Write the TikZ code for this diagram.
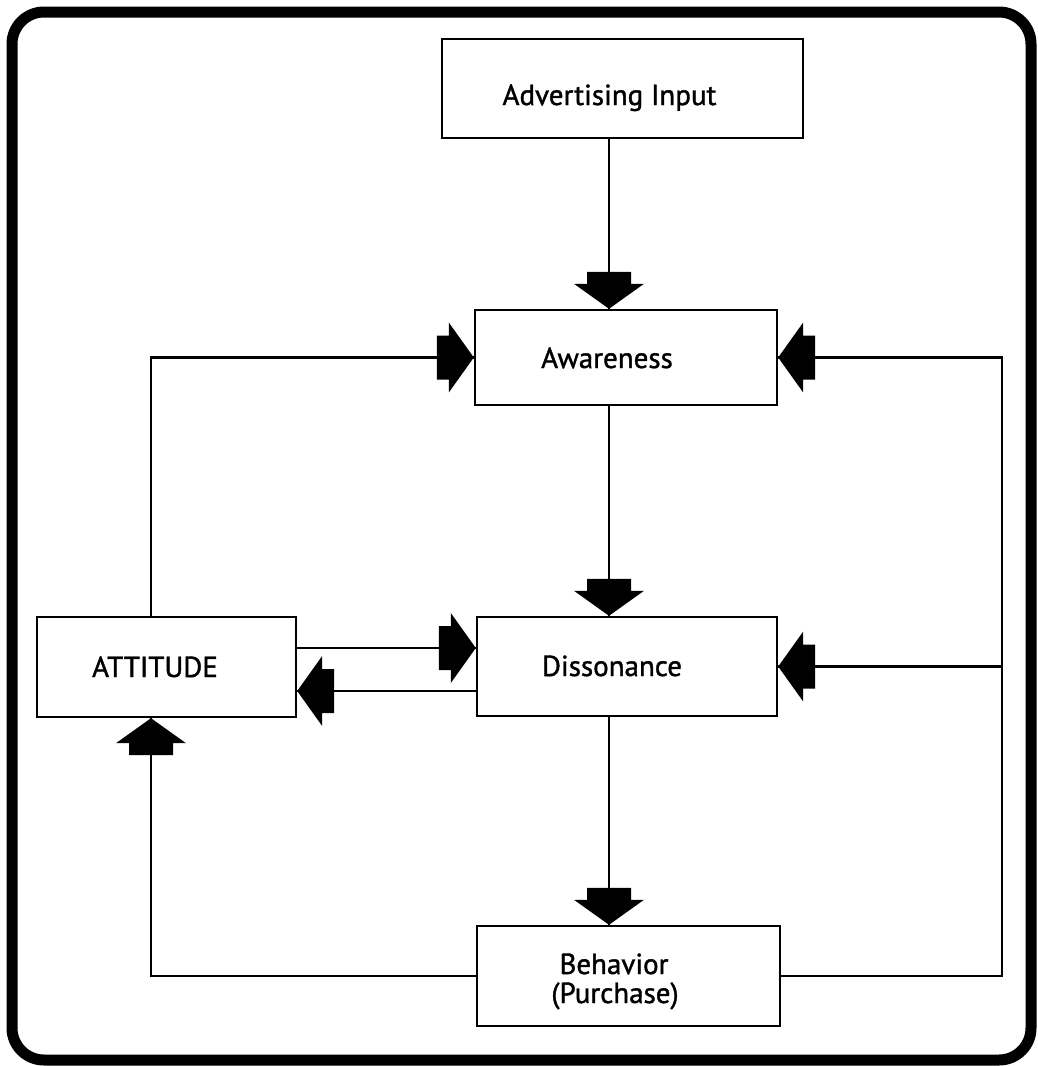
\documentclass[tikz,border=0pt]{standalone}
\usepackage{fontspec}
\setmainfont{PT Sans}
\newfontfamily\lblfont{PT Sans}[FakeBold=1.3]
\begin{document}
\begin{tikzpicture}[x=1pt,y=-1pt,
  box/.style={draw,line width=2.4pt,rectangle,inner sep=0pt},
  lbl/.style={font=\lblfont\fontsize{29}{30}\selectfont,inner sep=0pt,anchor=base},
  conn/.style={line width=2.4pt},
  blockarr/.pic={\fill (0,0) -- (-25,35) -- (-25,22) -- (-37,22) -- (-37,-22) -- (-25,-22) -- (-25,-35) -- cycle;}]
\useasboundingbox (0,0) rectangle (1037,1066);
\draw[line width=11pt,rounded corners=32pt] (12,12) rectangle (1031,1060);

% boxes
\node[box,minimum width=361pt,minimum height=99pt] (adv) at (622.5,88.5) {};
\node[box,minimum width=302pt,minimum height=95pt] (aw) at (626,357.5) {};
\node[box,minimum width=300pt,minimum height=99pt] (dis) at (627,666.5) {};
\node[box,minimum width=259pt,minimum height=100pt] (att) at (166.5,667) {};
\node[box,minimum width=303pt,minimum height=100pt] (beh) at (628.5,976) {};

% texts
\node[lbl] (advt) at (609.5,105) {Advertising Input};
\node[lbl] (awt) at (607,368) {Awareness};
\node[lbl] (dist) at (612,676) {Dissonance};
\node[lbl] (attt) at (155,677) {ATTITUDE};
\node[lbl] (beht1) at (614,974) {Behavior};
\node[lbl] (beht2) at (615,1003) {(Purchase)};

% helper coordinates
\coordinate (cx) at (609,0);
\coordinate (lx) at (151,0);
\coordinate (rx) at (1002,0);
\coordinate (ya) at (0,648);
\coordinate (yb) at (0,691);

% main vertical chain
\draw[conn] (adv.south -| cx) -- (aw.north -| cx);
\pic[rotate=270] at (aw.north -| cx) {blockarr};
\draw[conn] (aw.south -| cx) -- (dis.north -| cx);
\pic[rotate=270] at (dis.north -| cx) {blockarr};
\draw[conn] (dis.south -| cx) -- (beh.north -| cx);
\pic[rotate=270] at (beh.north -| cx) {blockarr};

% attitude -> awareness
\draw[conn] (att.north -| lx) |- (aw.west);
\pic at (aw.west) {blockarr};

% attitude <-> dissonance
\draw[conn] (att.east |- ya) -- (dis.west |- ya);
\pic at (dis.west |- ya) {blockarr};
\draw[conn] (dis.west |- yb) -- (att.east |- yb);
\pic[rotate=180] at (att.east |- yb) {blockarr};

% behavior feedback right
\draw[conn] (beh.east) -| (rx |- aw.east) -- (aw.east);
\pic[rotate=180] at (aw.east) {blockarr};
\draw[conn] (rx |- dis.east) -- (dis.east);
\pic[rotate=180] at (dis.east) {blockarr};

% behavior -> attitude
\draw[conn] (beh.west) -| (att.south -| lx);
\pic[rotate=90] at (att.south -| lx) {blockarr};
\end{tikzpicture}
\end{document}
